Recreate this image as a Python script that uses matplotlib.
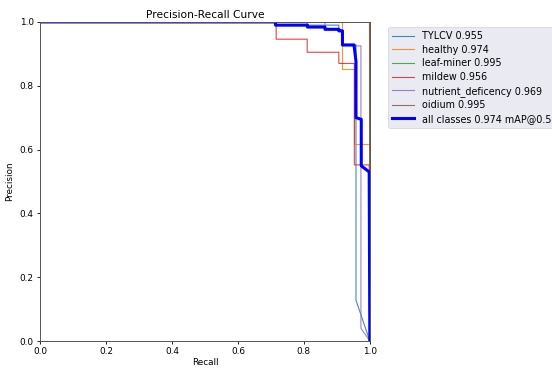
import matplotlib
matplotlib.use("Agg")
import matplotlib.pyplot as plt

# Per-class PR curves (recall, precision vertices)
tylcv_r = [0.0, 0.81, 0.81, 0.906, 0.906, 0.915, 0.917, 0.958, 0.958, 1.0]
tylcv_p = [1.0, 1.0, 0.99, 0.99, 0.975, 0.975, 0.928, 0.928, 0.128, 0.0]

healthy_r = [0.0, 0.917, 0.917, 0.953, 0.953, 1.0, 1.0]
healthy_p = [1.0, 1.0, 0.852, 0.852, 0.616, 0.616, 0.0]

leafminer_r = [0.0, 0.999, 1.0]
leafminer_p = [1.0, 1.0, 0.0]

mildew_r = [0.0, 0.716, 0.716, 0.81, 0.81, 0.906, 0.906, 0.953, 0.953, 0.998, 1.0]
mildew_p = [1.0, 1.0, 0.946, 0.946, 0.905, 0.905, 0.87, 0.87, 0.552, 0.552, 0.0]

nutrient_r = [0.0, 0.864, 0.864, 0.906, 0.906, 0.915, 0.917, 0.973, 0.973, 1.0]
nutrient_p = [1.0, 1.0, 0.975, 0.975, 0.972, 0.972, 0.925, 0.925, 0.04, 0.0]

oidium_r = [0.0, 0.999, 1.0]
oidium_p = [1.0, 1.0, 0.0]

all_r = [0.0, 0.714, 0.714, 0.811, 0.811, 0.864, 0.864, 0.906, 0.906, 0.917, 0.917,
         0.952, 0.958, 0.958, 0.974, 0.974, 0.998, 1.0]
all_p = [1.0, 1.0, 0.99, 0.99, 0.984, 0.984, 0.977, 0.977, 0.972, 0.972, 0.928,
         0.928, 0.876, 0.70, 0.695, 0.549, 0.53, 0.0]

names = ["TYLCV", "healthy", "leaf-miner", "mildew", "nutrient_deficency", "oidium"]
ap = [0.955, 0.974, 0.995, 0.956, 0.969, 0.995]
map50 = 0.974
colors = ["#1f77b4", "#ff7f0e", "#2ca02c", "#d62728", "#9467bd", "#8c564b"]

curves = [(tylcv_r, tylcv_p), (healthy_r, healthy_p), (leafminer_r, leafminer_p),
          (mildew_r, mildew_p), (nutrient_r, nutrient_p), (oidium_r, oidium_p)]

plt.rcParams['font.family'] = ['DejaVu Sans']
plt.rcParams['font.size'] = 6.4

fig = plt.figure(figsize=(5.52, 3.72), dpi=100)
ax = fig.add_axes([0.0725, 0.0833, 0.5975, 0.8577])

for i, (r, p) in enumerate(curves):
    ax.plot(r, p, linewidth=0.8, color=colors[i], alpha=0.85,
            label=f"{names[i]} {ap[i]:.3f}")
ax.plot(all_r, all_p, linewidth=2.2, color='blue', label=f"all classes {map50:.3f} mAP@0.5")

ax.set_xlim(0, 1)
ax.set_ylim(0, 1)
ax.set_xlabel("Recall", labelpad=1)
ax.set_ylabel("Precision", labelpad=4)
ax.set_title("Precision-Recall Curve", pad=3)
ax.tick_params(length=2.5, width=0.6, pad=2)
for s in ax.spines.values():
    s.set_linewidth(0.7)
    s.set_color('#555555')

leg = ax.legend(bbox_to_anchor=(1.04, 1), loc="upper left", frameon=True,
                facecolor='#eaeaf2', edgecolor='#d8d8d8', framealpha=1.0,
                fontsize=6.9, handlelength=2.3, labelspacing=0.38, borderpad=0.45)
leg.get_frame().set_linewidth(0.6)

fig.savefig("out.png", dpi=100)
